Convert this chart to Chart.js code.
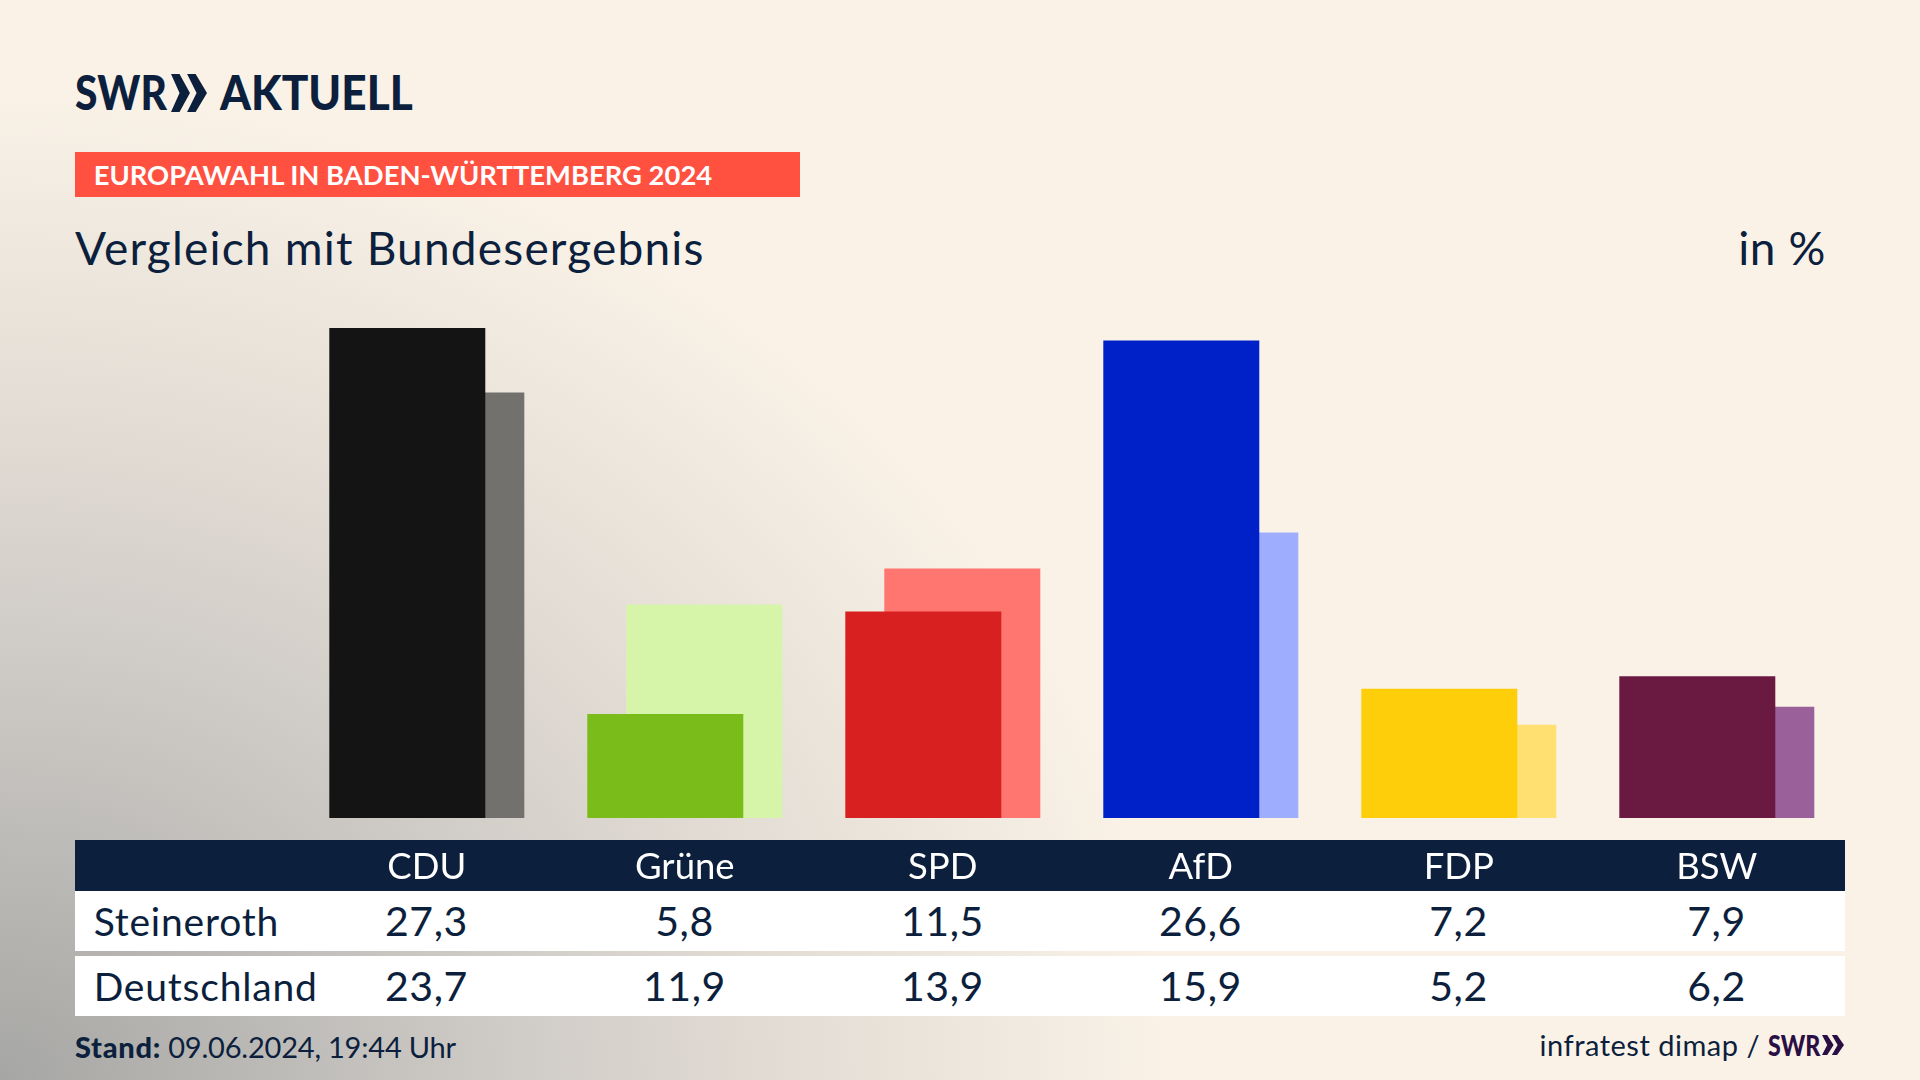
<!DOCTYPE html>
<html lang="de">
<head>
<meta charset="utf-8">
<title>Vergleich mit Bundesergebnis</title>
<script src="https://cdn.jsdelivr.net/npm/chart.js@4"></script>
<style>
  html, body { margin: 0; padding: 0; }
  body {
    width: 1920px; height: 1080px; overflow: hidden; position: relative;
    font-family: Lato, sans-serif; color: #0c1f3d;
    background-color: #faf2e7;
    background-image:
      radial-gradient(ellipse 1300px 1100px at 0 1080px, #a6a6a4 0%, #c9c6c2 33%, #e2dcd4 60%, rgba(250,242,231,0) 90%);
  }
  .abs { position: absolute; white-space: nowrap; }
  .squeeze { display: inline-block; transform-origin: left center; }
  #logo { left: 75px; top: 63px; font-size: 48px; font-weight: 900; line-height: 58px; }
  #logo svg { position: absolute; left: 96px; top: 11px; }
  #logo .swr { position: absolute; left: 0; top: 0; transform: scaleX(0.85); }
  #logo .akt { position: absolute; left: 145px; top: 0; transform: scaleX(0.92); }
  #band {
    left: 74.7px; top: 152px; width: 725px; height: 45px; background: #ff5040; color: #fff;
    font-size: 27.4px; font-weight: 700; line-height: 46px; text-indent: 19px;
  }
  #title { left: 75px; top: 220px; font-size: 46px; line-height: 56px; letter-spacing: 1.2px; }
  #unit { right: 94px; top: 220px; font-size: 46px; line-height: 56px; letter-spacing: 0.6px; }
  #strip { left: 74.7px; top: 840px; width: 1770.8px; height: 51px; background: #0c1f3d; }
  .row {
    position: absolute; left: 74.7px; width: 1770.8px; height: 60px; background: #fff;
    display: grid; grid-template-columns: 222.8px repeat(6, 258px); align-items: center;
    font-size: 41px; line-height: 58px; letter-spacing: 0.6px;
  }
  .row div { text-align: center; }
  .row div:first-child { text-align: left; padding-left: 19px; font-size: 39px; letter-spacing: 0.8px; line-height: 56px; }
  #stand { left: 75px; top: 1029px; font-size: 29px; line-height: 36px; letter-spacing: -0.2px; }
  #stand b { font-weight: 900; letter-spacing: 0.7px; }
  #source { right: 160px; top: 1027px; font-size: 29px; line-height: 36px; letter-spacing: 0.5px; }
  #swr2 { left: 1768px; top: 1027px; font-size: 29px; font-weight: 900; line-height: 36px; color: #2a0f45; }
  #swr2 .swr { position: absolute; left: 0; top: 0; transform: scaleX(0.8); }
  #swr2 svg { position: absolute; left: 54px; top: 8px; }
  canvas { position: absolute; left: 0; top: 0; }
</style>
</head>
<body>
<div class="abs" id="logo">
  <span class="squeeze swr">SWR</span>
  <svg width="36" height="38" viewBox="0 0 38 38" preserveAspectRatio="none"><path fill="#0c1f3d" d="M0 0h9l11 19L9 38H0l9-19zM17 0h9l12 19-12 19h-9l10-19z"/></svg>
  <span class="squeeze akt">AKTUELL</span>
</div>
<div class="abs" id="band">EUROPAWAHL IN BADEN-WÜRTTEMBERG 2024</div>
<div class="abs" id="title">Vergleich mit Bundesergebnis</div>
<div class="abs" id="unit">in %</div>
<div class="abs" id="strip"></div>
<div id="rows"></div>
<div class="abs" id="stand"><b>Stand:</b> 09.06.2024, 19:44 Uhr</div>
<div class="abs" id="source">infratest dimap /</div>
<div class="abs" id="swr2">
  <span class="squeeze swr">SWR</span>
  <svg width="22" height="20" viewBox="0 0 38 38" preserveAspectRatio="none"><path fill="#2a0f45" d="M0 0h9l11 19L9 38H0l9-19zM17 0h9l12 19-12 19h-9l10-19z"/></svg>
</div>
<canvas id="chart" width="1920" height="1080"></canvas>

<script>
// data
const parties = ['CDU', 'Grüne', 'SPD', 'AfD', 'FDP', 'BSW'];
const steineroth = [27.3, 5.8, 11.5, 26.6, 7.2, 7.9];
const deutschland = [23.7, 11.9, 13.9, 15.9, 5.2, 6.2];

const frontColors = ['#141414', '#7abd1b', '#d7201f', '#0020c8', '#ffce0b', '#6a1a40'];
const backColors = ['#73716e', '#d6f5a9', '#ff7570', '#9fadff', '#ffe070', '#9a6099'];

// table rows under the bars
const comma = v => v.toFixed(1).replace('.', ',');
function addRow(label, values, top) {
  const row = document.createElement('div');
  row.className = 'row';
  row.style.top = top + 'px';
  [label, ...values.map(comma)].forEach(t => {
    const cell = document.createElement('div');
    cell.textContent = t;
    row.appendChild(cell);
  });
  document.getElementById('rows').appendChild(row);
}
addRow('Steineroth', steineroth, 891);
addRow('Deutschland', deutschland, 956);

// first dataset paints on top, so the local result sits in front
new Chart(document.getElementById('chart'), {
  type: 'bar',
  data: {
    labels: parties,
    datasets: [
      { label: 'Steineroth', data: steineroth, backgroundColor: frontColors },
      { label: 'Deutschland', data: deutschland, backgroundColor: backColors }
    ]
  },
  options: {
    responsive: false,
    animation: false,
    devicePixelRatio: 1,
    // bars overlap: chunk = 39px, each bar 4 chunks wide
    categoryPercentage: 78 / 258,
    barPercentage: 4,
    layout: { padding: { left: 297.8, right: 74.2, top: 279.5, bottom: 182 } },
    plugins: { legend: { display: false }, tooltip: { enabled: false } },
    scales: {
      x: {
        grid: { display: false, drawTicks: false },
        border: { display: false },
        // label strip is the navy bar, keep the axis box a fixed size
        afterFit: s => { s.height = 80; },
        ticks: {
          color: '#ffffff', padding: 27, maxRotation: 0, autoSkip: false,
          font: { family: 'Lato, sans-serif', size: 36.5 }
        }
      },
      y: { display: false, min: 0, max: 30 }
    }
  }
});
</script>
</body>
</html>
